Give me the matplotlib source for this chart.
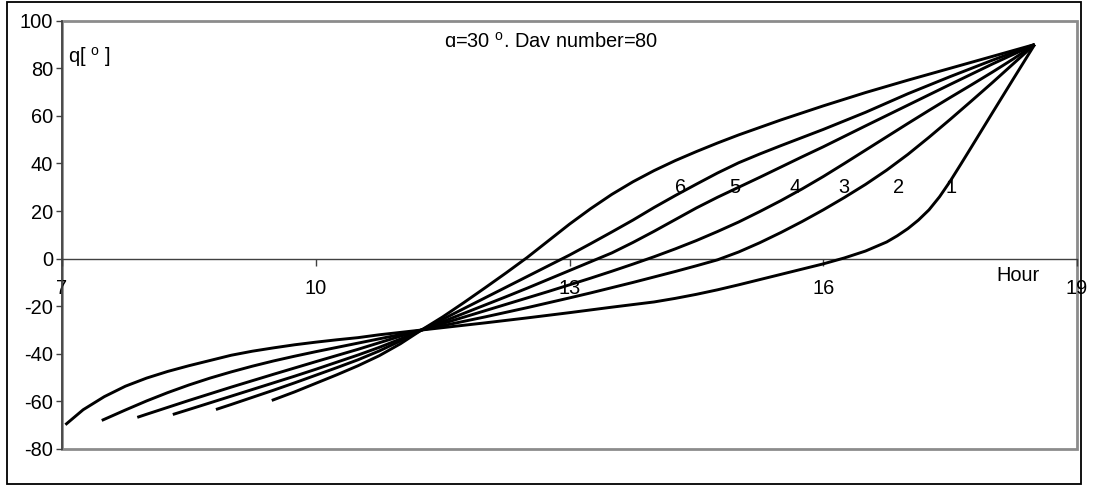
import matplotlib
matplotlib.use("Agg")
import matplotlib.pyplot as plt
from matplotlib.patches import Rectangle
from matplotlib.transforms import Bbox

plt.rcParams['font.family'] = ['Liberation Sans', 'DejaVu Sans']
plt.rcParams['mathtext.default'] = 'regular'
plt.rcParams['mathtext.fontset'] = 'custom'
plt.rcParams['mathtext.rm'] = 'Liberation Sans'

# Tracking angle versus hour of day for six cases (labels 1..6)
hours_1 = [7.04, 7.25, 7.5, 7.75, 8.0, 8.25, 8.5, 8.75, 9.0, 9.25, 9.5, 9.75, 10.0, 10.25, 10.5, 10.75, 11.0, 11.25,
           11.5, 12.0, 12.5, 13.0, 13.5, 14.0, 14.25, 14.5, 14.75, 15.0, 15.25, 15.5, 15.75, 16.0, 16.25, 16.5,
           16.75, 16.875, 17.0, 17.125, 17.25, 17.375, 17.5, 17.625, 17.75, 18.0, 18.25, 18.5]
theta_1 = [-69.8, -63.5, -58.0, -53.6, -50.2, -47.4, -45.0, -42.8, -40.6, -38.9, -37.5, -36.2, -35.1, -34.1, -33.2, -32.0, -31.0, -30.0,
           -29.0, -27.0, -24.9, -22.7, -20.4, -18.2, -16.7, -15.0, -13.1, -11.0, -8.8, -6.6, -4.4, -2.2, 0.3, 3.2,
           7.0, 9.6, 12.6, 16.2, 20.5, 26.0, 32.5, 39.6, 46.8, 61.3, 75.7, 90.0]

hours_2 = [7.47, 7.75, 8.0, 8.25, 8.5, 8.75, 9.0, 9.25, 9.5, 9.75, 10.0, 10.25, 10.5, 10.75, 11.0, 11.25,
           11.5, 12.0, 12.5, 13.0, 13.25, 13.5, 13.75, 14.0, 14.25, 14.5, 14.75, 15.0, 15.25, 15.5, 15.75,
           16.0, 16.25, 16.5, 16.75, 17.0, 17.25, 17.5, 17.75, 18.0, 18.25, 18.5]
theta_2 = [-68.0, -63.6, -59.8, -56.3, -53.1, -50.2, -47.6, -45.2, -43.0, -41.0, -39.1, -37.3, -35.5, -33.7, -31.9, -30.0,
           -28.2, -24.5, -20.6, -16.5, -14.4, -12.2, -10.0, -7.7, -5.4, -3.0, -0.5, 2.8, 6.7, 11.0, 15.6,
           20.5, 25.7, 31.2, 37.2, 43.8, 51.0, 58.5, 66.2, 74.0, 82.0, 90.0]

hours_3 = [7.89, 8.0, 8.5, 9.0, 9.5, 10.0, 10.5, 11.0, 11.25, 11.5, 11.75, 12.0, 12.25, 12.5, 12.75, 13.0, 13.25,
           13.5, 13.75, 14.0, 14.25, 14.5, 14.75, 15.0, 15.25, 15.5, 15.75, 16.0, 16.25, 16.5, 16.75, 17.0,
           17.25, 17.5, 17.75, 18.0, 18.25, 18.5]
theta_3 = [-66.7, -65.4, -59.6, -54.0, -48.6, -43.3, -38.1, -32.6, -30.0, -27.3, -24.6, -21.9, -19.2, -16.5, -13.8, -11.0, -8.2,
           -5.3, -2.3, 0.8, 4.1, 7.6, 11.4, 15.4, 19.8, 24.4, 29.3, 34.5, 40.0, 45.6, 51.2, 56.8,
           62.3, 67.7, 73.0, 78.4, 84.0, 90.0]

hours_4 = [8.31, 8.5, 8.75, 9.0, 9.25, 9.5, 9.75, 10.0, 10.25, 10.5, 10.75, 11.0, 11.25, 11.5, 11.75, 12.0, 12.25,
           12.5, 12.75, 13.0, 13.25, 13.5, 13.75, 14.0, 14.25, 14.5, 14.75, 15.0, 15.25, 15.5, 15.75, 16.0,
           16.5, 17.0, 17.5, 18.0, 18.5]
theta_4 = [-65.5, -63.4, -60.6, -57.8, -55.0, -52.2, -49.4, -46.5, -43.5, -40.5, -37.3, -33.8, -30.0, -26.5, -23.0, -19.5, -16.0,
           -12.4, -8.7, -5.0, -1.3, 2.4, 6.8, 11.5, 16.4, 21.3, 25.8, 30.0, 34.2, 38.5, 42.8, 47.0,
           55.8, 64.5, 73.2, 81.8, 90.0]

hours_5 = [8.82, 9.0, 9.25, 9.5, 9.75, 10.0, 10.25, 10.5, 10.75, 11.0, 11.25, 11.5, 11.75, 12.0, 12.25, 12.5, 12.75,
           13.0, 13.25, 13.5, 13.75, 14.0, 14.25, 14.5, 14.75, 15.0, 15.25, 15.5, 15.75, 16.0, 16.5, 17.0,
           17.5, 18.0, 18.5]
theta_5 = [-63.4, -61.3, -58.3, -55.3, -52.2, -49.0, -45.8, -42.5, -38.8, -34.6, -30.0, -25.5, -21.0, -16.5, -12.0, -7.5, -3.0,
           1.5, 6.3, 11.2, 16.2, 21.5, 26.5, 31.3, 36.0, 40.3, 44.0, 47.5, 50.9, 54.3, 61.5, 69.3,
           76.5, 83.4, 90.0]

hours_6 = [9.48, 9.75, 10.0, 10.25, 10.5, 10.75, 11.0, 11.25, 11.5, 11.75, 12.0, 12.25, 12.5, 12.75, 13.0, 13.25,
           13.5, 13.75, 14.0, 14.25, 14.5, 14.75, 15.0, 15.5, 16.0, 16.5, 17.0, 17.5, 18.0, 18.5]
theta_6 = [-59.6, -56.0, -52.4, -48.8, -45.0, -40.8, -35.8, -30.0, -24.5, -18.5, -12.3, -6.0, 0.5, 7.5, 14.5, 21.0,
           27.0, 32.3, 37.0, 41.2, 45.0, 48.6, 52.0, 58.3, 64.2, 69.8, 75.0, 80.0, 85.0, 90.0]

series = [(hours_1, theta_1), (hours_2, theta_2), (hours_3, theta_3),
          (hours_4, theta_4), (hours_5, theta_5), (hours_6, theta_6)]

curve_labels = ["6", "5", "4", "3", "2", "1"]
curve_label_x = [14.31, 14.96, 15.67, 16.24, 16.89, 17.51]
curve_label_y = 27.7

x_ticks = [7, 10, 13, 16, 19]
y_ticks = [-80, -60, -40, -20, 0, 20, 40, 60, 80, 100]

title_text = "q=30 $^{o}$, Day number=80"
y_label_text = "q[ $^{o}$ ]"
x_label_text = "Hour"

FS = 14.4
W, H = 1095, 486
fig = plt.figure(figsize=(W / 100, H / 100), dpi=100)
fig.patch.set_facecolor('white')

ax = fig.add_axes([62 / W, 1 - 449 / H, (1077 - 62) / W, (449 - 20.7) / H])
ax.set_xlim(7, 19)
ax.set_ylim(-80, 100)

for hx, ty in series:
    ax.plot(hx, ty, color='black', lw=2.1, solid_joinstyle='round', solid_capstyle='butt', zorder=3)

# plot-area frame
ax.add_patch(Rectangle((0, 0), 1, 1, transform=ax.transAxes, fill=False,
                       edgecolor='#8c8c8c', lw=2.0, zorder=1, clip_on=False))
for side in ('top', 'right'):
    ax.spines[side].set_visible(False)
ax.spines['left'].set_color('#404040')
ax.spines['left'].set_linewidth(1.2)
ax.spines['bottom'].set_position(('data', 0))
ax.spines['bottom'].set_color('#404040')
ax.spines['bottom'].set_linewidth(1.0)

ax.set_xticks(x_ticks)
ax.set_xticklabels([str(v) for v in x_ticks])
ax.set_yticks(y_ticks)
ax.set_yticklabels([str(v) for v in y_ticks])
ax.tick_params(axis='x', direction='out', length=5, width=1.0, color='#404040',
               pad=10, labelsize=FS)
ax.tick_params(axis='y', direction='out', length=4.5, width=1.0, color='#404040',
               pad=2, labelsize=FS)

for lab, lx in zip(curve_labels, curve_label_x):
    ax.text(lx, curve_label_y, lab, ha='center', va='baseline', fontsize=FS, zorder=4)

ax.text(7.07, 82.2, y_label_text, ha='left', va='baseline', fontsize=FS)
ax.text(18.05, -9.2, x_label_text, ha='left', va='baseline', fontsize=FS)

# heading, cut along its baseline
title = fig.text(551 / W, 1 - 48 / H, title_text, ha='center', va='baseline', fontsize=FS)
title.set_clip_box(Bbox.from_extents(0, H - 47, W, H))
title.set_clip_on(True)

# outer chart border
fig.add_artist(Rectangle((7 / W, 2 / H), (1081 - 7) / W, (484 - 2) / H,
                         transform=fig.transFigure, fill=False, edgecolor='black', lw=1.3))

fig.savefig('out.png', dpi=100, facecolor='white')
